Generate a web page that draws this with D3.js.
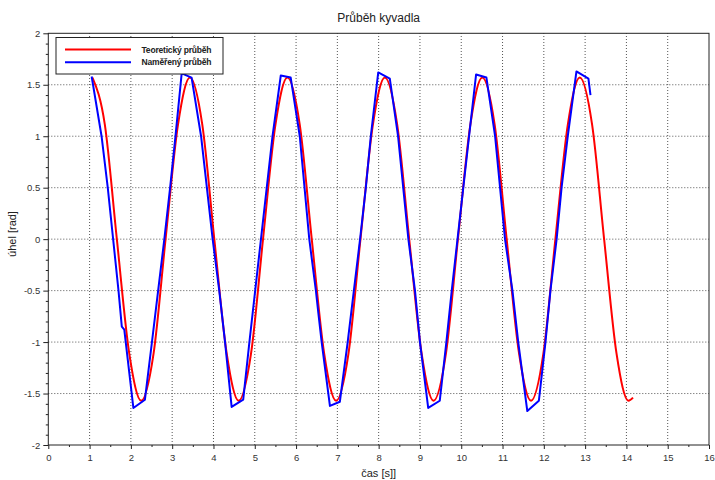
<!DOCTYPE html>
<html>
<head>
<meta charset="utf-8">
<script src="https://cdn.jsdelivr.net/npm/d3@7"></script>
<style>
  body { margin: 0; background: #fff; }
  svg { font-family: "Liberation Sans", Arial, sans-serif; }
  .grid line { stroke: #555; stroke-width: 1; stroke-dasharray: 1,2; }
  .axis path, .axis line { stroke: #222; }
  .axis text { fill: #333; font-size: 9.5px; }
</style>
</head>
<body>
<script>
// pendulum: theoretical curve (red)
var theoT = [1.07, 1.37, 1.66, 1.96, 2.25, 2.55, 2.84, 3.14, 3.43, 3.73, 4.02, 4.32, 4.61,
             4.91, 5.20, 5.50, 5.79, 6.09, 6.38, 6.68, 6.97, 7.27, 7.56, 7.86, 8.15, 8.45,
             8.74, 9.04, 9.33, 9.63, 9.92, 10.22, 10.51, 10.81, 11.10, 11.40, 11.69, 11.99,
             12.28, 12.58, 12.87, 13.17, 13.46, 13.76, 14.05, 14.16];
var theoV = [1.57, 1.11, 0, -1.11, -1.57, -1.11, 0, 1.11, 1.57, 1.11, 0, -1.11, -1.57,
             -1.11, 0, 1.11, 1.57, 1.11, 0, -1.11, -1.57, -1.11, 0, 1.11, 1.57, 1.11,
             0, -1.11, -1.57, -1.11, 0, 1.11, 1.57, 1.11, 0, -1.11, -1.57, -1.11,
             0, 1.11, 1.57, 1.11, 0, -1.11, -1.57, -1.54];

// measured curve (blue)
var measT = [1.05, 1.29, 1.44, 1.57, 1.70, 1.78, 1.84, 2.06, 2.34, 2.51, 2.66, 2.81, 2.95, 3.08,
             3.23, 3.47, 3.70, 3.98, 4.14, 4.28, 4.44, 4.72, 4.87, 5.01, 5.15, 5.29, 5.43,
             5.63, 5.87, 6.09, 6.32, 6.48, 6.54, 6.62, 6.82, 7.06, 7.25, 7.40, 7.55, 7.69, 7.81,
             7.99, 8.27, 8.47, 8.72, 8.88, 9.00, 9.20, 9.48, 9.64, 9.77, 9.91, 10.05, 10.19,
             10.36, 10.61, 10.82, 11.06, 11.24, 11.38, 11.60, 11.88, 12.04, 12.16, 12.31, 12.43, 12.58,
             12.79, 13.08, 13.13];
var measV = [1.58, 1.0, 0.5, 0, -0.5, -0.85, -0.88, -1.64, -1.56, -1.0, -0.5, 0, 0.5, 1.0,
             1.61, 1.57, 1.0, 0, -0.5, -1.0, -1.63, -1.56, -1.0, -0.5, 0, 0.5, 1.0,
             1.59, 1.57, 1.0, 0, -0.5, -0.72, -1.0, -1.62, -1.58, -1.0, -0.5, 0, 0.5, 1.0,
             1.62, 1.56, 1.0, 0, -0.5, -1.0, -1.64, -1.57, -1.0, -0.5, 0, 0.5, 1.0,
             1.60, 1.57, 1.0, 0, -0.5, -1.0, -1.67, -1.57, -1.0, -0.5, 0, 0.5, 1.0,
             1.63, 1.56, 1.40];

var xTicks = [0, 1, 2, 3, 4, 5, 6, 7, 8, 9, 10, 11, 12, 13, 14, 15, 16];
var yTicks = [-2, -1.5, -1, -0.5, 0, 0.5, 1, 1.5, 2];
var seriesNames = ["Teoretický průběh", "Naměřený průběh"];
var seriesColors = ["#ff0000", "#0000ff"];

var width = 715, height = 480;
var margin = {left: 48.3, right: 6, top: 33.3, bottom: 35};

var svg = d3.select("body").append("svg")
    .attr("width", width)
    .attr("height", height);

var x = d3.scaleLinear().domain([0, 16]).range([margin.left, width - margin.right]);
var y = d3.scaleLinear().domain([-2, 2]).range([height - margin.bottom, margin.top]);

// grid
var grid = svg.append("g").attr("class", "grid");
grid.selectAll(".gx").data(xTicks.slice(1, -1)).enter().append("line")
    .attr("x1", d => x(d)).attr("x2", d => x(d))
    .attr("y1", y(-2)).attr("y2", y(2));
grid.selectAll(".gy").data(yTicks.slice(1, -1)).enter().append("line")
    .attr("x1", x(0)).attr("x2", x(16))
    .attr("y1", d => y(d)).attr("y2", d => y(d));

// minor ticks
var xMinor = d3.range(0, 16.01, 0.5).filter(d => d % 1 !== 0);
var yMinor = d3.range(-2, 2.01, 0.1).map(d => Math.round(d * 10) / 10).filter(d => Math.abs(d * 2 - Math.round(d * 2)) > 1e-6);

svg.append("g").attr("class", "axis")
    .attr("transform", "translate(0," + y(-2) + ")")
    .call(d3.axisBottom(x).tickValues(xMinor).tickSize(2).tickFormat(""))
    .select(".domain").remove();
svg.append("g").attr("class", "axis")
    .attr("transform", "translate(" + x(0) + ",0)")
    .call(d3.axisLeft(y).tickValues(yMinor).tickSize(2.5).tickFormat(""))
    .select(".domain").remove();

// major axes
svg.append("g").attr("class", "axis")
    .attr("transform", "translate(0," + y(-2) + ")")
    .call(d3.axisBottom(x).tickValues(xTicks).tickSize(4).tickPadding(5).tickFormat(d3.format("d")))
    .select(".domain").remove();
svg.append("g").attr("class", "axis")
    .attr("transform", "translate(" + x(0) + ",0)")
    .call(d3.axisLeft(y).tickValues(yTicks).tickSize(5).tickPadding(3).tickFormat(d => String(d)))
    .select(".domain").remove();

// curves
svg.append("clipPath").attr("id", "clip")
  .append("rect").attr("x", x(0)).attr("y", y(2))
    .attr("width", x(16) - x(0)).attr("height", y(-2) - y(2));

var lineSmooth = d3.line().x(d => x(d[0])).y(d => y(d[1])).curve(d3.curveMonotoneX);
var lineStraight = d3.line().x(d => x(d[0])).y(d => y(d[1]));

svg.append("path")
    .datum(d3.zip(theoT, theoV))
    .attr("clip-path", "url(#clip)")
    .attr("fill", "none")
    .attr("stroke", seriesColors[0])
    .attr("stroke-width", 2)
    .attr("d", lineSmooth);

svg.append("path")
    .datum(d3.zip(measT, measV))
    .attr("clip-path", "url(#clip)")
    .attr("fill", "none")
    .attr("stroke", seriesColors[1])
    .attr("stroke-width", 2)
    .attr("stroke-linejoin", "round")
    .attr("d", lineStraight);

// frame
svg.append("rect")
    .attr("x", x(0)).attr("y", y(2))
    .attr("width", x(16) - x(0)).attr("height", y(-2) - y(2))
    .attr("fill", "none").attr("stroke", "#222").attr("stroke-width", 1);

// legend
var legend = svg.append("g").attr("transform", "translate(56,37.5)");
legend.append("rect")
    .attr("width", 167).attr("height", 36.5)
    .attr("fill", "#fff").attr("stroke", "#222").attr("stroke-width", 1);
seriesNames.forEach(function(name, i) {
  var ly = 12 + i * 12.7;
  legend.append("line")
      .attr("x1", 9).attr("x2", 75)
      .attr("y1", ly).attr("y2", ly)
      .attr("stroke", seriesColors[i]).attr("stroke-width", 2);
  legend.append("text")
      .attr("x", 120.5).attr("y", ly + 3)
      .attr("text-anchor", "middle")
      .attr("font-size", "8.5px")
      .attr("font-weight", "bold")
      .attr("fill", "#222")
      .attr("textLength", 70).attr("lengthAdjust", "spacing")
      .text(name);
});

// labels
svg.append("text")
    .attr("x", (x(0) + x(16)) / 2).attr("y", 21.5)
    .attr("text-anchor", "middle")
    .attr("font-size", "12px").attr("fill", "#222")
    .text("Průběh kyvadla");

svg.append("text")
    .attr("x", (x(0) + x(16)) / 2).attr("y", 477)
    .attr("text-anchor", "middle")
    .attr("font-size", "11px").attr("fill", "#222")
    .text("čas [s]]");

svg.append("text")
    .attr("transform", "translate(16," + y(0.05) + ") rotate(-90)")
    .attr("text-anchor", "middle")
    .attr("font-size", "11px").attr("fill", "#222")
    .text("úhel [rad]");
</script>
</body>
</html>
